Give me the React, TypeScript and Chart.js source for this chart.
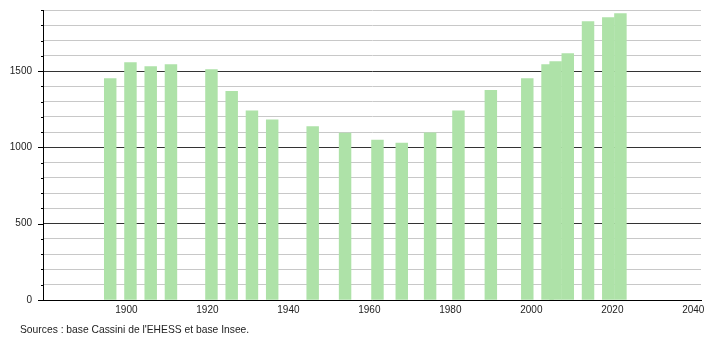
import React, { useEffect, useRef } from "react";
import { Chart, registerables } from "chart.js";

Chart.register(...registerables);

const years = [1896, 1901, 1906, 1911, 1921, 1926, 1931, 1936, 1946, 1954, 1962, 1968, 1975, 1982, 1990, 1999, 2004, 2006, 2009, 2014, 2019, 2022];
const population = [1450, 1555, 1530, 1543, 1509, 1367, 1240, 1181, 1136, 1094, 1048, 1028, 1096, 1240, 1373, 1450, 1542, 1562, 1614, 1824, 1850, 1877];
const xTickValues = [1900, 1920, 1940, 1960, 1980, 2000, 2020, 2040];
const yLabelValues = [0, 500, 1000, 1500];
const sourceText = "Sources : base Cassini de l'EHESS et base Insee.";

const FONT = "'Liberation Sans', Arial, sans-serif";

const yTickMarks = {
  id: "yTickMarks",
  afterDraw(chart: any) {
    const ctx = chart.ctx;
    const y = chart.scales.y;
    const left = chart.chartArea.left;
    ctx.save();
    ctx.strokeStyle = "#000";
    ctx.lineWidth = 1;
    y.ticks.forEach((t: any) => {
      const py = Math.round(y.getPixelForValue(t.value)) + 0.5;
      const len = t.value % 500 === 0 ? 5 : 2;
      ctx.beginPath();
      ctx.moveTo(left - len, py);
      ctx.lineTo(left, py);
      ctx.stroke();
    });
    ctx.restore();
  },
};

export default function App() {
  const ref = useRef<HTMLCanvasElement | null>(null);
  useEffect(() => {
    if (!ref.current) return;
    const chart = new Chart(ref.current, {
      type: "bar",
      data: {
        datasets: [
          {
            data: years.map((yr, i) => ({ x: yr, y: population[i] })),
            backgroundColor: "rgb(174,226,168)",
            borderWidth: 0,
            barThickness: 11.8,
          },
        ],
      },
      options: {
        animation: false,
        responsive: false,
        events: [],
        layout: { padding: { top: 10, right: 9, left: 0, bottom: 0 } },
        plugins: { legend: { display: false }, tooltip: { enabled: false } },
        scales: {
          x: {
            type: "linear",
            min: 1879.4,
            max: 2041.9,
            offset: false,
            afterBuildTicks: (scale: any) => {
              scale.ticks = xTickValues.map((v) => ({ value: v }));
            },
            afterFit: (scale: any) => {
              scale.height = 40;
              scale.paddingLeft = 0;
              scale.paddingRight = 0;
            },
            grid: { display: false, drawTicks: false },
            border: { display: true, color: "#000", width: 1, z: 1 },
            ticks: {
              padding: 4,
              color: "#222",
              font: { family: FONT, size: 10 },
              maxRotation: 0,
              autoSkip: false,
              callback: (v: any) => String(v),
            },
          },
          y: {
            min: 0,
            max: 1900,
            afterFit: (scale: any) => {
              scale.width = 43;
              scale.paddingTop = 0;
              scale.paddingBottom = 0;
            },
            grid: {
              drawTicks: false,
              color: (c: any) => (c.tick && c.tick.value % 500 === 0 ? "#333" : "#c8c8c8"),
              lineWidth: 1,
            },
            border: { display: true, color: "#000", width: 1, z: 1 },
            ticks: {
              stepSize: 100,
              padding: 11,
              color: "#222",
              font: { family: FONT, size: 10 },
              autoSkip: false,
              callback: (v: any) => (yLabelValues.includes(Number(v)) ? String(v) : ""),
            },
          },
        },
      },
      plugins: [yTickMarks],
    });
    return () => chart.destroy();
  }, []);

  return (
    <div style={{ position: "fixed", left: 0, top: 0, width: 710, height: 340, background: "#fff" }}>
      <canvas ref={ref} width={710} height={340} style={{ display: "block" }} />
      <div
        style={{
          position: "absolute",
          left: 20,
          top: 324,
          fontFamily: FONT,
          fontSize: 10.3,
          color: "#222",
          whiteSpace: "nowrap",
          lineHeight: "12px",
        }}
      >
        {sourceText}
      </div>
    </div>
  );
}
